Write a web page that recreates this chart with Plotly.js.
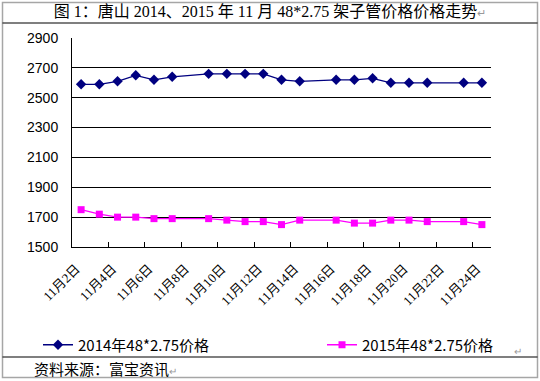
<!DOCTYPE html>
<html>
<head>
<meta charset="utf-8">
<script src="https://cdn.plot.ly/plotly-3.0.1.min.js"></script>
<style>
html,body{margin:0;padding:0;background:#fff;}
#chart{width:540px;height:381px;}
</style>
</head>
<body>
<div id="chart"></div>
<script>
// ---- data ----
const categories = ["11月2日","11月3日","11月4日","11月5日","11月6日","11月7日","11月8日","11月9日","11月10日","11月11日","11月12日","11月13日","11月14日","11月15日","11月16日","11月17日","11月18日","11月19日","11月20日","11月21日","11月22日","11月23日","11月24日"];
const price2014 = [2590,2590,2610,2650,2620,2640,null,2660,2660,2660,2660,2620,2610,null,2620,2620,2630,2600,2600,2600,null,2600,2600];
const price2015 = [1750,1720,1700,1700,1690,1690,null,1690,1680,1670,1670,1650,1680,null,1680,1660,1660,1680,1680,1670,null,1670,1650];
const name2014 = "2014年48*2.75价格";
const name2015 = "2015年48*2.75价格";
const yTicks = [1500,1700,1900,2100,2300,2500,2700,2900];
const titleText = "图 1：唐山 2014、2015 年 11 月 48*2.75 架子管价格价格走势";
const sourceText = "资料来源：富宝资讯";

// ---- layout helpers ----
const W = 540, H = 381;
const M = {l:72, r:49, t:38, b:134};
const PW = W - M.l - M.r, PH = H - M.t - M.b;
const px = v => (v - M.l) / PW;
const py = v => (H - M.b - v) / PH;

const idx = categories.map((c, i) => i);
const labelIdx = idx.filter(i => i % 2 === 0);
const boundaryIdx = idx.filter(i => i % 2 === 1 && i < categories.length - 1).map(i => i + 0.5);

const serifCJK = "'Liberation Serif','Noto Sans CJK SC',serif";
const cjk = "'Noto Sans CJK SC','Liberation Sans',sans-serif";

const traces = [
  {
    x: idx, y: price2014, name: name2014, type: 'scatter', mode: 'lines+markers',
    connectgaps: true, legend: 'legend',
    line: {color: '#000080', width: 1.3},
    marker: {symbol: 'diamond', size: 8, color: '#000080'}
  },
  {
    x: idx, y: price2015, name: name2015, type: 'scatter', mode: 'lines+markers',
    connectgaps: true, legend: 'legend2',
    line: {color: '#FF00FF', width: 1.3},
    marker: {symbol: 'square', size: 7, color: '#FF00FF'}
  }
];

const legendBase = {
  orientation: 'h',
  xref: 'container', yref: 'container',
  xanchor: 'left', y: 1 - 345/H, yanchor: 'middle',
  font: {family: cjk, size: 15, color: '#000'},
  bgcolor: 'rgba(0,0,0,0)', borderwidth: 0, itemwidth: 30
};

const layout = {
  width: W, height: H,
  margin: M,
  paper_bgcolor: '#fff', plot_bgcolor: '#fff',
  showlegend: true,
  title: {
    text: titleText + '<span style="color:#999;font-size:11px">↵</span>',
    font: {family: serifCJK, size: 16, color: '#000'},
    xref: 'container', yref: 'container', x: 0.5, xanchor: 'center', y: 1 - 11/H, yanchor: 'middle'
  },
  xaxis: {
    range: [-0.5, categories.length - 0.5],
    tickmode: 'array',
    tickvals: labelIdx,
    ticktext: labelIdx.map(i => categories[i]),
    tickangle: -45,
    ticks: '', showgrid: false, zeroline: false,
    showline: true, linecolor: '#000', linewidth: 1,
    tickfont: {family: serifCJK, size: 13, color: '#000'},
    ticklabelstandoff: 8,
    ticklabelshift: -5,
    minor: {tickmode: 'array', tickvals: boundaryIdx, ticks: 'inside', ticklen: 5, tickcolor: '#000', tickwidth: 1, showgrid: false},
    fixedrange: true
  },
  yaxis: {
    range: [1500, 2900],
    tickmode: 'array', tickvals: yTicks,
    ticks: '', showgrid: true, gridcolor: '#000', gridwidth: 1,
    zeroline: false, showline: true, linecolor: '#000', linewidth: 1,
    tickfont: {family: "'Liberation Sans',Arial,sans-serif", size: 14, color: '#000'},
    ticklabelstandoff: 10,
    fixedrange: true
  },
  legend: Object.assign({}, legendBase, {x: 38/W}),
  legend2: Object.assign({}, legendBase, {x: 322/W}),
  shapes: [
    {type: 'rect', xref: 'paper', yref: 'paper', x0: px(2.5), x1: px(537.5), y0: py(2.5), y1: py(377.5), line: {color: '#a6a6a6', width: 1.5}, fillcolor: 'rgba(0,0,0,0)'},
    {type: 'line', xref: 'paper', yref: 'paper', x0: px(2.5), x1: px(537.5), y0: py(23), y1: py(23), line: {color: '#000', width: 1.2}},
    {type: 'line', xref: 'paper', yref: 'paper', x0: px(2.5), x1: px(537.5), y0: py(357), y1: py(357), line: {color: '#000', width: 1.2}}
  ],
  annotations: [
    {text: sourceText + '<span style="color:#999;font-size:10px">↵</span>', xref: 'paper', yref: 'paper', x: px(32), y: py(368), xanchor: 'left', yanchor: 'middle', showarrow: false, font: {family: cjk, size: 15, color: '#000'}},
    {text: '↵', xref: 'paper', yref: 'paper', x: px(518), y: py(350), xanchor: 'center', yanchor: 'middle', showarrow: false, font: {family: cjk, size: 10, color: '#999'}}
  ]
};

Plotly.newPlot('chart', traces, layout, {displayModeBar: false, staticPlot: true});
</script>
</body>
</html>
